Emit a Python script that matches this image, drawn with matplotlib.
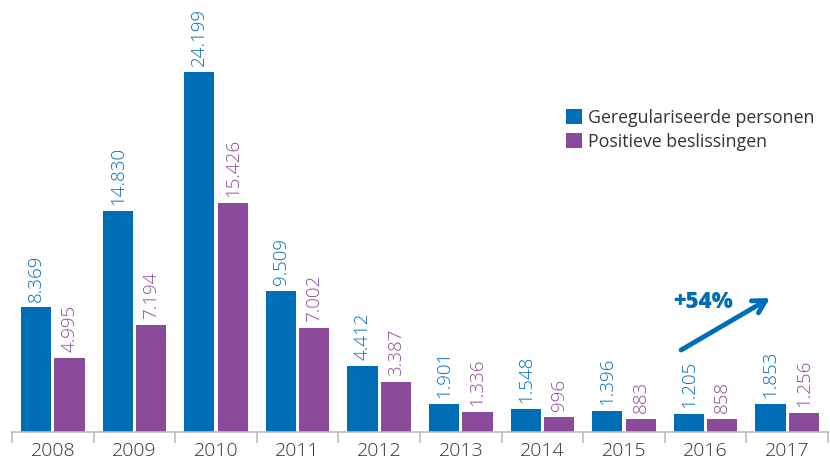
import matplotlib.pyplot as plt
import numpy as np

years = ['2008', '2009', '2010', '2011', '2012', '2013', '2014', '2015', '2016', '2017']
geregulariseerd = [8369, 14830, 24199, 9509, 4412, 1901, 1548, 1396, 1205, 1853]
positief = [4995, 7194, 15426, 7002, 3387, 1336, 996, 883, 858, 1256]
labels_blue = ['8.369', '14.830', '24.199', '9.509', '4.412', '1.901', '1.548', '1.396', '1.205', '1.853']
labels_purple = ['4.995', '7.194', '15.426', '7.002', '3.387', '1.336', '996', '883', '858', '1.256']

blue = '#006db7'
purple = '#8c4a9b'

plt.rcParams['font.family'] = ['Open Sans', 'DejaVu Sans']

fig = plt.figure(figsize=(8.3, 4.65), dpi=100)
ax = fig.add_axes([12 / 830, 1 - 432 / 465, 816 / 830, 432 / 465])

x = np.arange(len(years))
w = 0.37
b1 = ax.bar(x - w / 2 - 0.02, geregulariseerd, w, color=blue, label='Geregulariseerde personen')
b2 = ax.bar(x + w / 2 + 0.02, positief, w, color=purple, label='Positieve beslissingen')

for xi, v, t in zip(x - w / 2 - 0.02, geregulariseerd, labels_blue):
    ax.text(xi, v + 400, t, rotation=90, ha='center', va='bottom', color=blue, fontsize=13.5, fontweight='light')
for xi, v, t in zip(x + w / 2 + 0.02, positief, labels_purple):
    ax.text(xi, v + 400, t, rotation=90, ha='center', va='bottom', color=purple, fontsize=13.5, fontweight='light')

ax.set_xlim(-0.5, len(years) - 0.5)
ax.set_ylim(0, 24199 * 432 / 360)

for s in ['top', 'right', 'left']:
    ax.spines[s].set_visible(False)
ax.spines['bottom'].set_color('#bbbbbb')
ax.spines['bottom'].set_linewidth(1.2)
ax.set_yticks([])
ax.set_xticks(x)
ax.set_xticklabels(years, fontsize=14, color='#333333', fontweight='light')
ax.tick_params(axis='x', which='major', length=0, pad=7)
ax.set_xticks(np.arange(-0.5, len(years)), minor=True)
ax.tick_params(axis='x', which='minor', length=8, color='#bbbbbb', width=1.2)

leg = ax.legend(loc='upper left', bbox_to_anchor=(0.67, 0.765), frameon=False, fontsize=12.8,
                handlelength=0.9, handleheight=0.9, handletextpad=0.35, labelspacing=0.35,
                labelcolor='#333333', borderaxespad=0)

ax.annotate('', xy=(8.79, 9005), xytext=(7.70, 5511),
            arrowprops=dict(arrowstyle='->,head_length=0.9,head_width=0.5', color=blue, lw=3.5,
                            shrinkA=0, shrinkB=0))
ax.text(7.97, 8737, '+54%', color=blue, fontsize=16, fontweight='heavy', ha='center', va='center')

fig.savefig('out.png', dpi=100)
